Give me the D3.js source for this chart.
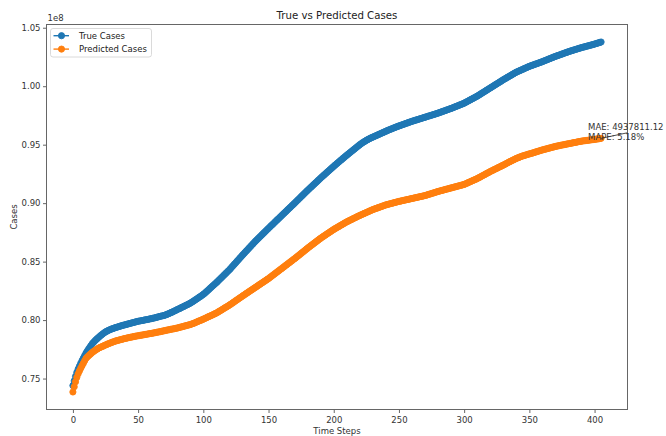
<!DOCTYPE html>
<html><head><meta charset="utf-8">
<script src="https://cdn.jsdelivr.net/npm/d3@7"></script>
<style>
body{margin:0;background:#fff}
svg{display:block;font-family:"DejaVu Sans",sans-serif}
</style>
</head><body><svg id="c" width="666" height="436"></svg>
<script>
const chartTitle = "True vs Predicted Cases";
const xLabel = "Time Steps";
const yLabel = "Cases";
const seriesNames = ["True Cases", "Predicted Cases"];
const seriesColors = ["#1f77b4", "#ff7f0e"];
const xTicks = [0, 50, 100, 150, 200, 250, 300, 350, 400];
const yTicks = [0.75, 0.80, 0.85, 0.90, 0.95, 1.00, 1.05]; // in units of 1e8
const yOffsetLabel = "1e8";
const annotationLines = ["MAE: 4937811.12", "MAPE: 5.18%"];

// cases in millions, one value per time step (0..405)
const trueCases = [
74.40,74.80,75.18,75.52,75.80,76.05,76.30,76.53,76.75,76.96,77.17,
77.35,77.52,77.68,77.84,78.00,78.12,78.24,78.35,78.45,78.55,
78.65,78.74,78.83,78.91,78.99,79.05,79.11,79.16,79.21,79.25,
79.29,79.33,79.37,79.40,79.44,79.47,79.51,79.54,79.57,79.60,
79.63,79.66,79.69,79.72,79.75,79.78,79.81,79.84,79.87,79.90,
79.92,79.94,79.96,79.98,80.01,80.03,80.05,80.07,80.10,80.12,
80.15,80.17,80.20,80.23,80.26,80.29,80.32,80.35,80.37,80.40,
80.44,80.48,80.53,80.58,80.63,80.68,80.73,80.79,80.84,80.90,
80.95,81.00,81.06,81.11,81.17,81.22,81.28,81.33,81.39,81.45,
81.52,81.59,81.66,81.74,81.81,81.89,81.97,82.04,82.12,82.20,
82.29,82.39,82.49,82.59,82.70,82.80,82.90,83.00,83.10,83.20,
83.31,83.42,83.53,83.64,83.75,83.86,83.97,84.08,84.19,84.30,
84.42,84.55,84.67,84.80,84.92,85.05,85.17,85.30,85.42,85.55,
85.67,85.79,85.91,86.03,86.15,86.27,86.39,86.51,86.63,86.75,
86.86,86.97,87.08,87.19,87.30,87.41,87.52,87.63,87.74,87.85,
87.96,88.07,88.17,88.28,88.39,88.50,88.61,88.71,88.82,88.93,
89.04,89.14,89.25,89.36,89.47,89.57,89.68,89.79,89.89,90.00,
90.11,90.22,90.33,90.44,90.55,90.66,90.77,90.88,90.99,91.10,
91.20,91.31,91.41,91.52,91.62,91.73,91.83,91.94,92.04,92.15,
92.25,92.35,92.45,92.55,92.65,92.75,92.85,92.95,93.05,93.15,
93.25,93.34,93.44,93.53,93.63,93.72,93.82,93.91,94.01,94.10,
94.19,94.28,94.37,94.46,94.55,94.64,94.73,94.82,94.91,95.00,
95.08,95.16,95.23,95.30,95.37,95.43,95.49,95.55,95.60,95.65,
95.70,95.75,95.80,95.85,95.90,95.95,96.00,96.05,96.10,96.15,
96.20,96.25,96.29,96.34,96.38,96.43,96.47,96.52,96.56,96.60,
96.64,96.68,96.72,96.76,96.80,96.84,96.88,96.92,96.96,97.00,
97.03,97.07,97.10,97.14,97.17,97.21,97.24,97.28,97.31,97.35,
97.38,97.42,97.45,97.49,97.52,97.56,97.59,97.63,97.66,97.70,
97.74,97.78,97.82,97.86,97.90,97.94,97.98,98.02,98.06,98.10,
98.14,98.19,98.23,98.28,98.32,98.37,98.41,98.46,98.50,98.55,
98.61,98.67,98.73,98.79,98.85,98.91,98.97,99.03,99.09,99.15,
99.22,99.29,99.36,99.43,99.50,99.57,99.64,99.71,99.78,99.85,
99.92,99.99,100.06,100.13,100.20,100.27,100.34,100.41,100.48,100.55,
100.62,100.68,100.75,100.81,100.88,100.94,101.01,101.07,101.14,101.20,
101.25,101.30,101.35,101.40,101.45,101.50,101.55,101.60,101.65,101.70,
101.74,101.78,101.82,101.86,101.90,101.94,101.98,102.02,102.06,102.10,
102.15,102.19,102.24,102.28,102.33,102.37,102.42,102.46,102.51,102.55,
102.59,102.63,102.67,102.71,102.75,102.79,102.83,102.87,102.91,102.95,
102.99,103.02,103.06,103.09,103.13,103.16,103.20,103.23,103.27,103.30,
103.33,103.36,103.39,103.42,103.45,103.48,103.51,103.54,103.57,103.60,
103.64,103.67,103.71,103.74,103.78
];

const predictedCases = [
73.85,74.30,74.72,75.10,75.40,75.65,75.88,76.10,76.30,76.52,76.72,
76.84,76.95,77.05,77.15,77.25,77.33,77.41,77.48,77.55,77.62,
77.67,77.72,77.77,77.82,77.87,77.92,77.97,78.01,78.06,78.10,
78.14,78.18,78.22,78.25,78.28,78.31,78.34,78.37,78.40,78.43,
78.45,78.48,78.50,78.53,78.55,78.57,78.60,78.62,78.64,78.66,
78.68,78.70,78.72,78.74,78.76,78.78,78.80,78.82,78.84,78.86,
78.88,78.90,78.92,78.95,78.97,78.99,79.01,79.04,79.06,79.09,
79.11,79.14,79.16,79.18,79.21,79.23,79.25,79.27,79.30,79.32,
79.35,79.38,79.41,79.44,79.47,79.50,79.53,79.56,79.59,79.62,
79.66,79.70,79.74,79.79,79.84,79.89,79.94,79.98,80.03,80.08,
80.13,80.18,80.24,80.29,80.34,80.39,80.44,80.50,80.55,80.60,
80.67,80.74,80.80,80.87,80.94,81.01,81.08,81.14,81.21,81.28,
81.36,81.43,81.51,81.59,81.67,81.74,81.82,81.90,81.97,82.05,
82.13,82.20,82.28,82.35,82.43,82.50,82.58,82.65,82.73,82.80,
82.88,82.95,83.03,83.10,83.18,83.25,83.33,83.40,83.48,83.55,
83.64,83.72,83.81,83.89,83.98,84.06,84.15,84.23,84.32,84.40,
84.49,84.57,84.66,84.74,84.83,84.91,85.00,85.08,85.17,85.25,
85.34,85.43,85.52,85.61,85.70,85.79,85.88,85.97,86.06,86.15,
86.24,86.32,86.41,86.49,86.58,86.66,86.75,86.83,86.92,87.00,
87.08,87.15,87.23,87.30,87.38,87.45,87.53,87.60,87.68,87.75,
87.82,87.88,87.95,88.01,88.08,88.14,88.21,88.27,88.34,88.40,
88.46,88.51,88.57,88.62,88.68,88.73,88.79,88.84,88.90,88.95,
89.00,89.05,89.10,89.15,89.20,89.25,89.30,89.35,89.40,89.45,
89.49,89.53,89.57,89.61,89.65,89.69,89.73,89.77,89.81,89.85,
89.88,89.91,89.94,89.97,90.00,90.03,90.06,90.09,90.12,90.15,
90.17,90.20,90.22,90.25,90.27,90.30,90.32,90.35,90.37,90.40,
90.42,90.45,90.47,90.50,90.52,90.55,90.57,90.60,90.62,90.65,
90.68,90.72,90.75,90.79,90.82,90.86,90.89,90.93,90.96,91.00,
91.03,91.06,91.09,91.12,91.15,91.18,91.21,91.24,91.27,91.30,
91.33,91.36,91.39,91.42,91.45,91.48,91.51,91.54,91.57,91.60,
91.65,91.70,91.75,91.80,91.85,91.90,91.95,92.00,92.05,92.10,
92.16,92.22,92.28,92.34,92.40,92.46,92.52,92.58,92.64,92.70,
92.76,92.81,92.87,92.92,92.98,93.03,93.09,93.14,93.20,93.25,
93.31,93.37,93.43,93.49,93.55,93.60,93.66,93.71,93.77,93.82,
93.87,93.91,93.96,94.00,94.04,94.07,94.11,94.14,94.18,94.21,
94.24,94.27,94.31,94.34,94.38,94.41,94.45,94.48,94.52,94.55,
94.58,94.61,94.64,94.67,94.70,94.73,94.76,94.79,94.82,94.85,
94.87,94.90,94.92,94.94,94.97,94.99,95.01,95.03,95.06,95.08,
95.10,95.12,95.15,95.17,95.19,95.21,95.24,95.26,95.28,95.30,
95.32,95.33,95.35,95.36,95.38,95.39,95.41,95.42,95.44,95.45,
95.47,95.49,95.50,95.52,95.54
];

const timeSteps = trueCases.map((_, i) => i);
const series = [trueCases, predictedCases].map(arr => arr.map(v => v * 1e6));

const svg = d3.select("#c");
const L = 46.5, R = 627.5, T = 24.5, B = 409.5;
const textColor = "#333";
const axisColor = "#666";

// scales with 5% margins like matplotlib
const xMin = d3.min(timeSteps), xMax = d3.max(timeSteps);
const xPad = (xMax - xMin) * 0.05;
const x = d3.scaleLinear().domain([xMin - xPad, xMax + xPad]).range([L, R]);
const allY = series.flat();
const yMin = d3.min(allY), yMax = d3.max(allY);
const yPad = (yMax - yMin) * 0.05;
const y = d3.scaleLinear().domain([yMin - yPad, yMax + yPad]).range([B, T]);

svg.append("rect").attr("width", 666).attr("height", 436).attr("fill", "#fff");

svg.append("defs").append("clipPath").attr("id", "clip")
  .append("rect").attr("x", L).attr("y", T).attr("width", R - L).attr("height", B - T);

const plot = svg.append("g").attr("clip-path", "url(#clip)");
series.forEach((vals, si) => {
  const g = plot.append("g");
  const line = d3.line().x((d, i) => x(timeSteps[i])).y(d => y(d));
  g.append("path").datum(vals).attr("d", line)
    .attr("fill", "none").attr("stroke", seriesColors[si]).attr("stroke-width", 1.4);
  g.selectAll("circle").data(vals).join("circle")
    .attr("cx", (d, i) => x(timeSteps[i])).attr("cy", d => y(d))
    .attr("r", 3.1).attr("fill", seriesColors[si])
    .attr("stroke", seriesColors[si]).attr("stroke-width", 0.9);
});

// frame
svg.append("rect").attr("x", L).attr("y", T).attr("width", R - L).attr("height", B - T)
  .attr("fill", "none").attr("stroke", axisColor).attr("stroke-width", 1);

// axes
const xAxis = svg.append("g").attr("transform", `translate(0,${B})`)
  .call(d3.axisBottom(x).tickValues(xTicks).tickSize(3.5).tickPadding(3.5).tickFormat(d3.format("d")));
const yAxis = svg.append("g").attr("transform", `translate(${L},0)`)
  .call(d3.axisLeft(y).tickValues(yTicks.map(v => v * 1e8)).tickSize(3.5).tickPadding(2.5)
    .tickFormat(d => (d / 1e8).toFixed(2)));
[xAxis, yAxis].forEach(a => {
  a.select(".domain").remove();
  a.selectAll(".tick line").attr("stroke", axisColor);
  a.selectAll(".tick text").attr("fill", textColor).attr("font-size", 8.5)
    .attr("font-family", '"DejaVu Sans",sans-serif');
});

// offset label
svg.append("text").attr("x", L + 1).attr("y", 21).attr("font-size", 8.5)
  .attr("fill", textColor).text(yOffsetLabel);

// title
svg.append("text").attr("x", (L + R) / 2).attr("y", 19).attr("text-anchor", "middle")
  .attr("font-size", 10.2).attr("fill", "#222").text(chartTitle);

// axis labels
svg.append("text").attr("x", (L + R) / 2).attr("y", 434).attr("text-anchor", "middle")
  .attr("font-size", 8.5).attr("fill", textColor).text(xLabel);
svg.append("text").attr("transform", "translate(16.5,217) rotate(-90)").attr("text-anchor", "middle")
  .attr("font-size", 8.5).attr("fill", textColor).text(yLabel);

// legend
const lg = svg.append("g").attr("transform", "translate(50.5,28.5)");
lg.append("rect").attr("width", 101).attr("height", 28.5).attr("rx", 2.5)
  .attr("fill", "#fff").attr("fill-opacity", 0.8).attr("stroke", "#d0d0d0").attr("stroke-width", 0.8);
seriesNames.forEach((name, i) => {
  const cy = 7.2 + i * 13.4;
  lg.append("line").attr("x1", 3).attr("x2", 18.5).attr("y1", cy).attr("y2", cy)
    .attr("stroke", seriesColors[i]).attr("stroke-width", 1.4);
  lg.append("circle").attr("cx", 11).attr("cy", cy).attr("r", 3.1)
    .attr("fill", seriesColors[i]).attr("stroke", seriesColors[i]).attr("stroke-width", 0.9);
  lg.append("text").attr("x", 28.5).attr("y", cy + 3).attr("font-size", 8.5)
    .attr("fill", "#222").text(name);
});

// annotation
const lastI = timeSteps.length - 1;
const px = x(timeSteps[lastI]), py = y(series[1][lastI]);
const tx = x(timeSteps[lastI] - 10);
svg.append("line").attr("x1", px).attr("y1", py).attr("x2", px + 26).attr("y2", py - 5.5)
  .attr("stroke", "#222").attr("stroke-width", 0.8);
annotationLines.forEach((t, i) => {
  svg.append("text").attr("x", tx).attr("y", py + 2 - (annotationLines.length - 1 - i) * 10)
    .attr("font-size", 8.5).attr("fill", "#333").text(t);
});
</script>
</body></html>
